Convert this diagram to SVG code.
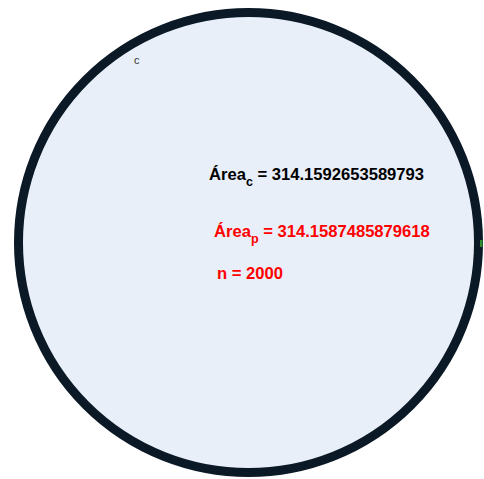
<svg xmlns="http://www.w3.org/2000/svg" width="484" height="479" viewBox="0 0 484 479">
<style>
.t{font-family:"Liberation Sans",Arial,sans-serif;font-weight:bold;font-size:16.6px}
.k{fill:#000}
.r{fill:#ff0000}
.s{font-size:12.5px}
</style>
<rect width="484" height="479" fill="#fff"/>
<g id="circle">
<circle cx="248.5" cy="242.5" r="230" fill="#e8eff9" stroke="#0b1825" stroke-width="9"/>
<rect x="480" y="240" width="2.5" height="7" fill="#2e8b2e"/>
</g>
<g id="label-c">
<text x="134" y="64" font-family="Liberation Sans,Arial,sans-serif" font-size="11" fill="#333">c</text>
</g>
<g id="area-c">
<text class="t k" x="209" y="180">Área<tspan class="s" dy="6">c</tspan><tspan dy="-6"> = 314.1592653589793</tspan></text>
</g>
<g id="area-p">
<text class="t r" x="214" y="237">Área<tspan class="s" dy="6">p</tspan><tspan dy="-6"> = 314.1587485879618</tspan></text>
</g>
<g id="n">
<text class="t r" x="217" y="279">n = 2000</text>
</g>
<g id="connectors"/>
</svg>
